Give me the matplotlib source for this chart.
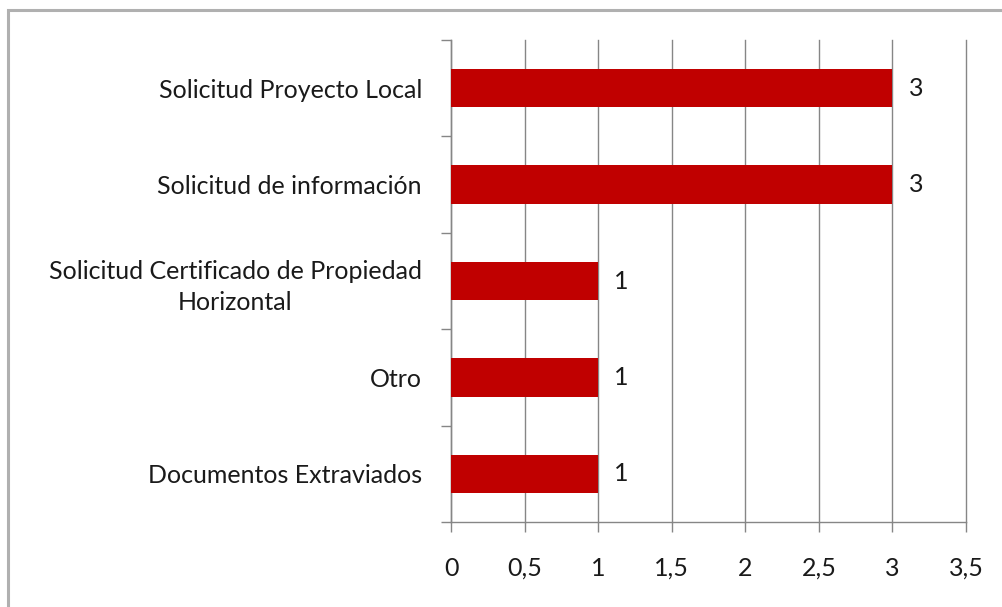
import matplotlib.pyplot as plt
from matplotlib.patches import Rectangle
import numpy as np

plt.rcParams['font.family'] = ['Lato', 'DejaVu Sans']

categories = ['Solicitud Proyecto Local',
              'Solicitud de información',
              'Solicitud Certificado de Propiedad\nHorizontal',
              'Otro',
              'Documentos Extraviados']
values = [3, 3, 1, 1, 1]
xticks = [0, 0.5, 1, 1.5, 2, 2.5, 3, 3.5]
xtick_labels = ['0', '0,5', '1', '1,5', '2', '2,5', '3', '3,5']

bar_color = '#C00000'
grid_color = '#868686'
text_color = '#1a1a1a'
fs = 18

fig = plt.figure(figsize=(10.03, 6.07), dpi=100)
ax = fig.add_axes([0.4497, 0.14, 0.5134, 0.7941])

# outer chart border (runs off the right and bottom edges)
fig.patches.append(Rectangle((8 / 1003, -0.1), 1.2, 1 - 10 / 607 + 0.1,
                             transform=fig.transFigure, fill=False,
                             edgecolor='#B0B0B0', linewidth=2.2))

y = np.arange(len(categories))
ax.barh(y, values, height=0.40, color=bar_color, zorder=3)
for yi, v in zip(y, values):
    ax.text(v + 0.11, yi, str(v), va='center', ha='left',
            fontsize=fs, color=text_color)

ax.set_xlim(0, 3.5)
ax.set_ylim(len(categories) - 0.5, -0.5)
ax.set_xticks(xticks)
ax.set_xticklabels(xtick_labels, fontsize=fs, color=text_color)
ax.set_yticks(y)
ax.set_yticklabels(categories, fontsize=fs, color=text_color)
for lbl in ax.get_yticklabels():
    lbl.set_multialignment('center')
    lbl.set_linespacing(1.4)

ax.set_yticks(np.arange(-0.5, len(categories)), minor=True)
ax.tick_params(axis='y', which='major', length=0, pad=21)
ax.tick_params(axis='y', which='minor', length=7, width=1, color=grid_color)
ax.tick_params(axis='x', length=7, width=1, color=grid_color, pad=18)

ax.grid(axis='x', color=grid_color, linewidth=1, zorder=0)
for gl in ax.get_xgridlines():
    gl.set_clip_on(False)
for s in ['top', 'right']:
    ax.spines[s].set_visible(False)
for s in ['left', 'bottom']:
    ax.spines[s].set_color(grid_color)
    ax.spines[s].set_linewidth(1)

fig.savefig('out.png', dpi=100)
